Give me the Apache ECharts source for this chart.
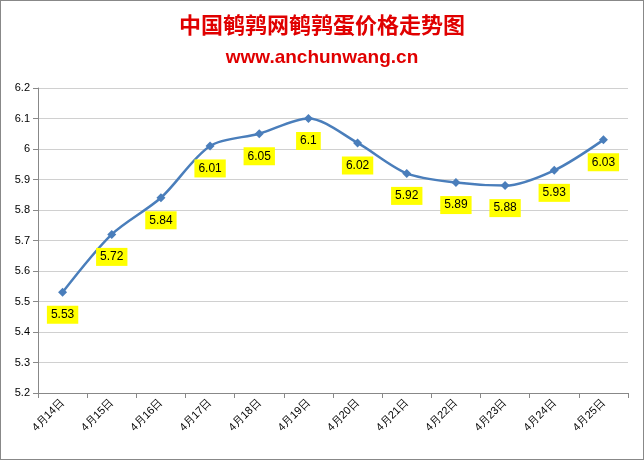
<!DOCTYPE html>
<html><head><meta charset="utf-8">
<script src="https://cdn.jsdelivr.net/npm/echarts@6/dist/echarts.min.js"></script>
<style>html,body{margin:0;padding:0;background:#fff}#c{width:642px;height:458px;border:1px solid #888}</style>
</head><body><div id="c"></div>
<script>
const categories=['4月14日','4月15日','4月16日','4月17日','4月18日','4月19日','4月20日','4月21日','4月22日','4月23日','4月24日','4月25日'];
const prices=[5.53,5.72,5.84,6.01,6.05,6.1,6.02,5.92,5.89,5.88,5.93,6.03];
const chart=echarts.init(document.getElementById('c'));
chart.setOption({
  animation:false,
  title:[{text:'中国鹌鹑网鹌鹑蛋价格走势图',left:'center',top:8,textStyle:{color:'#e00000',fontSize:22,fontWeight:'bold',fontFamily:'Noto Sans CJK SC'}},
         {text:'www.anchunwang.cn',left:'center',top:42,textStyle:{color:'#e00000',fontSize:19,fontWeight:'bold',fontFamily:'Liberation Sans'}}],
  grid:{left:37,right:15,top:87,bottom:66},
  xAxis:{type:'category',data:categories,boundaryGap:true,
    axisLine:{lineStyle:{color:'#888'}},axisTick:{show:true,lineStyle:{color:'#888'}},
    axisLabel:{rotate:45,color:'#000',fontSize:11,interval:0}},
  yAxis:{type:'value',min:5.2,max:6.2,interval:0.1,
    axisLine:{show:true,lineStyle:{color:'#888'}},axisTick:{show:true,lineStyle:{color:'#888'}},
    splitLine:{lineStyle:{color:'#d0d0d0'}},
    axisLabel:{color:'#000',fontSize:11,formatter:v=>String(Math.round(v*10)/10)}},
  series:[{type:'line',data:prices,smooth:0.3,symbol:'diamond',symbolSize:9,
    lineStyle:{color:'#4a7ebb',width:2.5},itemStyle:{color:'#4a7ebb'},
    label:{show:true,position:'bottom',distance:9,backgroundColor:'#ffff00',padding:[3,4],color:'#000',fontSize:12}}]
});
</script></body></html>
